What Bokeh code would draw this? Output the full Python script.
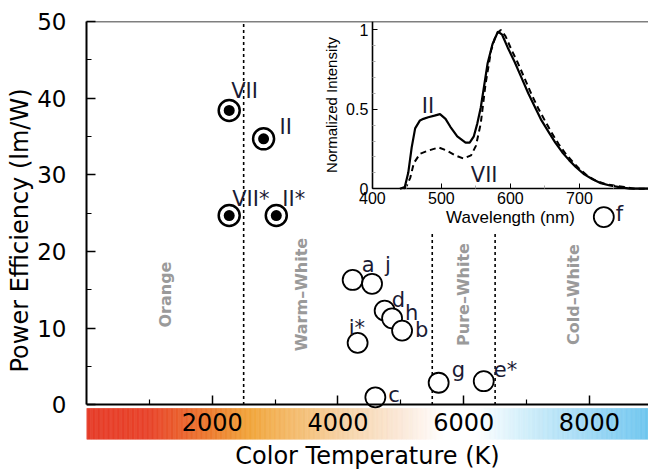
import numpy as np
from math import pi
from bokeh.plotting import figure
from bokeh.models import Range1d, LinearAxis, FixedTicker
from bokeh.core.properties import value
from bokeh.embed import file_html
from bokeh.resources import INLINE

# ---------------- data ----------------
filled_names = ["VII", "II", "VII*", "II*"]
filled_temp = [2270, 2817, 2270, 3019]
filled_eff = [38.4, 34.7, 24.7, 24.7]

open_names = ["a", "j", "d", "h", "b", "i*", "c", "g", "e*", "f"]
open_temp = [4234, 4542, 4743, 4861, 5020, 4313, 4595, 5602, 6319, 8229]
open_eff = [16.3, 15.8, 12.3, 11.3, 9.7, 8.1, 1.0, 2.9, 3.1, 24.5]

region_names = ["Orange", "Warm\u2013White", "Pure\u2013White", "Cold\u2013White"]
region_temp = [1253, 3428, 6000, 7751]
region_eff = [14.4, 14.4, 14.4, 14.4]

boundary_temp = [2500, 5500, 6500]
boundary_top = [50, 22.6, 22.6]

x_ticks = [2000, 4000, 6000, 8000]
x_minor = [1000, 3000, 5000, 7000]
y_ticks = [0, 10, 20, 30, 40, 50]
y_minor = [5, 15, 25, 35, 45]

# inset spectra
wl_II = [440, 447, 452, 457, 462, 469, 474, 481, 490, 498, 506, 513, 523, 535, 541,
         547, 552, 557, 562, 567, 574, 582, 588, 596, 606, 616, 626, 636, 645, 655,
         665, 675, 685, 695, 707, 719, 731, 744, 758, 773, 800]
I_II = [0.0, 0.01, 0.10, 0.26, 0.38, 0.43, 0.44, 0.45, 0.46, 0.47, 0.44, 0.39, 0.33,
        0.29, 0.29, 0.33, 0.41, 0.51, 0.65, 0.79, 0.91, 0.99, 0.97, 0.89, 0.80, 0.70,
        0.60, 0.51, 0.43, 0.36, 0.29, 0.23, 0.18, 0.135, 0.09, 0.06, 0.035, 0.02,
        0.01, 0.0, 0.0]
wl_VII = [445, 450, 455, 460, 469, 481, 496, 508, 520, 532, 543, 550, 557, 564, 572,
          579, 586, 593, 601, 611, 621, 631, 641, 651, 660, 670, 680, 690, 700, 712,
          724, 737, 750, 765, 780, 800]
I_VII = [0.0, 0.02, 0.07, 0.16, 0.22, 0.24, 0.26, 0.24, 0.21, 0.19, 0.21, 0.27, 0.41,
         0.66, 0.87, 0.97, 1.0, 0.96, 0.88, 0.79, 0.69, 0.59, 0.50, 0.42, 0.35, 0.28,
         0.22, 0.17, 0.125, 0.08, 0.05, 0.03, 0.02, 0.01, 0.0, 0.0]
inset_x_ticks = [400, 500, 600, 700]
inset_x_minor = [450, 550, 650, 750]
inset_y_ticks = [0, 0.5, 1]
inset_y_minor = [0.1, 0.2, 0.3, 0.4, 0.6, 0.7, 0.8, 0.9]
inset_labels = ["II", "VII"]
inset_label_wl = [471.6, 542.6]
inset_label_I = [0.52, 0.085]

# colour-temperature bar stops
cb_temps = [0, 1000, 2000, 2600, 3300, 4000, 5000, 5700, 6200, 7000, 8000, 8940]
cb_colors = ["#e63c28", "#e8432a", "#ed7d2f", "#f1a53a", "#f4bb6c", "#f6d0a0",
             "#fbe8d8", "#ffffff", "#ffffff", "#d0eefa", "#a0d9f5", "#6ec6ef"]

# ---------------- layout constants ----------------
X_RANGE = (0, 8940)
Y_RANGE = (-4.5, 50)
BAR = (-4.5, -0.46)
# inset placement: (inset value, main value) anchors
INSET_X = ((400, 4547), (800, 8940))
INSET_Y = ((0, 28.2), (1, 48.9))

label_dx = {"VII": 2, "II": 16, "VII*": 3, "II*": 6, "a": 9, "j": 13, "d": 7,
            "h": 13, "b": 13, "i*": -9, "c": 13, "g": 13, "e*": 10, "f": 12}
label_dy = {"VII": -19, "II": -12, "VII*": -17, "II*": -17, "a": -15, "j": -19,
            "d": -11, "h": -5, "b": -1, "i*": -15, "c": -2, "g": -13, "e*": -11, "f": -3}

FONT = "DejaVu Sans"
IFONT = "Liberation Sans"
LBL = "#1a1a33"


def lin(v, a, b):
    (v0, m0), (v1, m1) = a, b
    return v0 + (v - m0) * (v1 - v0) / (m1 - m0)


ix = Range1d(lin(X_RANGE[0], *INSET_X), lin(X_RANGE[1], *INSET_X))
iy = Range1d(lin(Y_RANGE[0], *INSET_Y), lin(Y_RANGE[1], *INSET_Y))

p = figure(width=648, height=472, x_range=Range1d(*X_RANGE), y_range=Range1d(*Y_RANGE),
           output_backend="svg", toolbar_location=None,
           x_axis_location=None, y_axis_location=None,
           min_border_left=86, min_border_right=0, min_border_top=21, min_border_bottom=30)
p.extra_x_ranges = {"ix": ix}
p.extra_y_ranges = {"iy": iy}
p.outline_line_color = None
p.grid.visible = False
p.background_fill_color = "white"
p.border_fill_color = "white"

# colour bar
edges = np.arange(X_RANGE[0], X_RANGE[1] + 20, 20)
mids = (edges[:-1] + edges[1:]) / 2
rgb = np.array([[int(c[i:i + 2], 16) for i in (1, 3, 5)] for c in cb_colors])
cols = ["#%02x%02x%02x" % tuple(int(round(np.interp(m, cb_temps, rgb[:, k]))) for k in range(3))
        for m in mids]
p.quad(left=edges[:-1], right=edges[1:], bottom=BAR[0], top=BAR[1],
       fill_color=cols, line_color=cols, line_width=0.6)

# boundaries
p.segment(x0=boundary_temp, y0=[0] * 3, x1=boundary_temp, y1=boundary_top,
          line_color="black", line_width=1.6, line_dash="3 3")

# region labels
p.text(region_temp, region_eff, text=region_names, angle=pi / 2,
       text_align="center", text_baseline="middle", text_color="#9a9a9a",
       text_font=value(FONT), text_font_style="bold", text_font_size="16px")

# inset spectra
p.line(wl_II, I_II, x_range_name="ix", y_range_name="iy", line_color="black", line_width=2.2)
p.line(wl_VII, I_VII, x_range_name="ix", y_range_name="iy", line_color="black",
       line_width=2.0, line_dash="6 4")
p.text(inset_label_wl, inset_label_I, text=inset_labels, x_range_name="ix", y_range_name="iy",
       text_align="left", text_baseline="alphabetic", text_color=LBL,
       text_font=value(FONT), text_font_size="21px")

# points
p.scatter(open_temp, open_eff, size=20, fill_color="white", line_color="black", line_width=1.8)
p.scatter(filled_temp, filled_eff, size=21, fill_color="white", line_color="black", line_width=2.5)
p.scatter(filled_temp, filled_eff, size=11, fill_color="black", line_color=None)

names = filled_names + open_names
p.text(filled_temp + open_temp, filled_eff + open_eff, text=names,
       x_offset=[label_dx[n] for n in names], y_offset=[label_dy[n] for n in names],
       text_align="left", text_baseline="alphabetic", text_color=LBL,
       text_font=value(FONT), text_font_size="21px")

# main axes
yax = LinearAxis(ticker=FixedTicker(ticks=y_ticks, minor_ticks=y_minor), bounds=(0, 50),
                 axis_label="Power Efficiency (lm/W)")
xax = LinearAxis(ticker=FixedTicker(ticks=x_ticks, minor_ticks=x_minor), fixed_location=0,
                 bounds=X_RANGE)
for ax in (yax, xax):
    ax.axis_line_width = 2
    ax.major_tick_in = 9
    ax.major_tick_out = 0
    ax.minor_tick_in = 5
    ax.minor_tick_out = 0
    ax.major_tick_line_width = 1.5
    ax.minor_tick_line_width = 1.2
    ax.major_label_text_font = FONT
    ax.major_label_text_color = "black"
yax.major_label_text_font_size = "23px"
yax.major_label_standoff = 20
yax.axis_label_text_font = FONT
yax.axis_label_text_font_size = "24px"
yax.axis_label_text_font_style = "normal"
yax.axis_label_text_color = "black"
yax.axis_label_standoff = 0
xax.major_label_text_font_size = "24px"
xax.major_label_standoff = 8
p.add_layout(yax, "left")
p.add_layout(xax, "below")

xlab = LinearAxis(ticker=FixedTicker(ticks=[]), axis_line_color=None,
                  major_tick_line_color=None, minor_tick_line_color=None,
                  major_tick_out=0, minor_tick_out=0, major_label_standoff=0,
                  axis_label="Color Temperature (K)", axis_label_standoff=2,
                  axis_label_text_font=FONT, axis_label_text_font_size="24px",
                  axis_label_text_font_style="normal", axis_label_text_color="black")
p.add_layout(xlab, "below")

top = LinearAxis(ticker=FixedTicker(ticks=[]), fixed_location=50, axis_line_width=1.5,
                 major_tick_line_color=None, minor_tick_line_color=None)
p.add_layout(top, "above")

# inset axes
iyax = LinearAxis(x_range_name="ix", y_range_name="iy", fixed_location=400,
                  bounds=(0, iy.end),
                  ticker=FixedTicker(ticks=inset_y_ticks, minor_ticks=inset_y_minor),
                  major_label_overrides={0: "0", 0.5: "0.5", 1: "1"},
                  axis_label="Normalized Intensity", axis_label_standoff=3,
                  major_label_standoff=4)
ixax = LinearAxis(x_range_name="ix", y_range_name="iy", fixed_location=0,
                  bounds=(400, 800),
                  ticker=FixedTicker(ticks=inset_x_ticks, minor_ticks=inset_x_minor),
                  axis_label="Wavelength (nm)", axis_label_standoff=1,
                  major_label_standoff=3)
for ax in (iyax, ixax):
    ax.axis_line_width = 1.6
    ax.major_tick_in = 5
    ax.major_tick_out = 0
    ax.minor_tick_in = 3
    ax.minor_tick_out = 0
    ax.minor_tick_line_color = "#aaaaaa"
    ax.major_label_text_font = IFONT
    ax.major_label_text_font_size = "16px"
    ax.major_label_text_color = "black"
    ax.axis_label_text_font = IFONT
    ax.axis_label_text_font_style = "normal"
    ax.axis_label_text_color = "black"
iyax.axis_label_text_font_size = "15px"
ixax.axis_label_text_font_size = "17px"
p.add_layout(iyax, "left")
p.add_layout(ixax, "below")

open("out.html", "w").write(file_html(p, INLINE))
